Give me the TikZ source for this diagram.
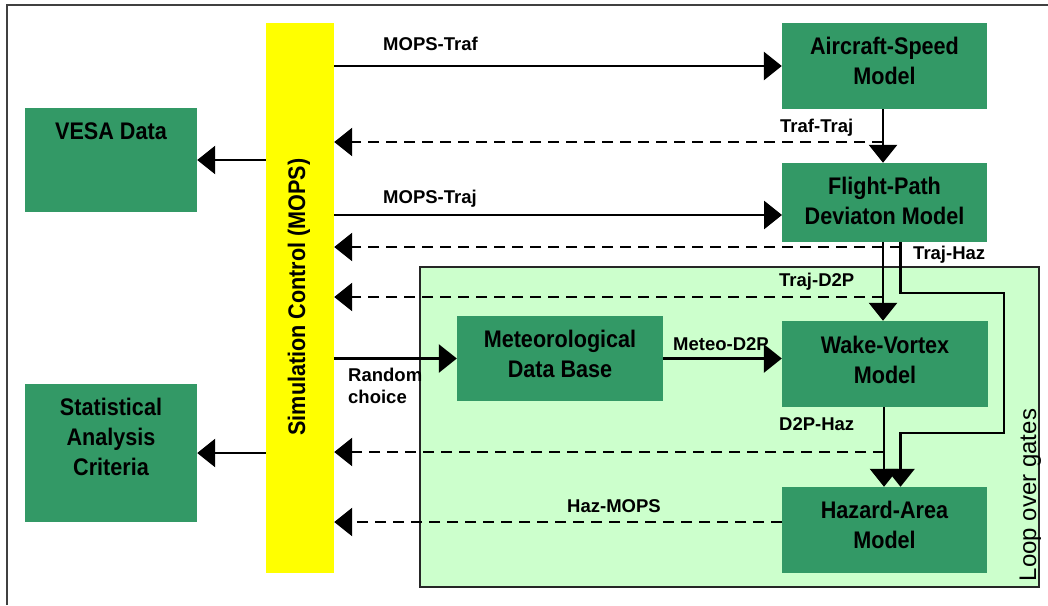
\documentclass[tikz,border=0pt]{standalone}
\usepackage{fontspec}
\setmainfont{Liberation Sans}
\newfontfamily\boxfont{Liberation Sans}[FakeStretch=0.9]
\usetikzlibrary{arrows.meta}
\definecolor{boxgreen}{RGB}{51,153,102}
\definecolor{loopgreen}{RGB}{204,255,204}
\definecolor{mopsyellow}{RGB}{255,255,0}
\newcommand{\bxt}[1]{\begin{tabular}[t]{@{}c@{}}#1\end{tabular}}
\newcommand{\lxt}[1]{\begin{tabular}[t]{@{}l@{}}#1\end{tabular}}
\begin{document}
\begin{tikzpicture}[x=1pt,y=-1pt,
  gbox/.style={fill=boxgreen, inner sep=0pt},
  btext/.style={anchor=base, inner sep=0pt, font=\boxfont\bfseries\fontsize{24}{30}\selectfont},
  lbl/.style={anchor=base west, inner sep=0pt, font=\bfseries\fontsize{18.5}{22}\selectfont},
  conn/.style={line width=2.9pt, -{Triangle[length=18pt,width=28pt]}},
  dconn/.style={conn, dash pattern=on 11pt off 7pt},
]
\useasboundingbox (0,0) rectangle (1048,605);
% frame
\draw[line width=1.3pt, black!75] (7,605) -- (7,5) -- (1048,5);
% loop region
\node[fill=loopgreen, draw=black!85, line width=1.3pt, inner sep=0pt,
      minimum width=619pt, minimum height=320pt] (loop) at (729.5,427) {};
\node[anchor=base, rotate=90, inner sep=0pt, font=\fontsize{24}{28}\selectfont]
      (looptext) at (1036,495) {Loop over gates};
% yellow control bar
\node[fill=mopsyellow, inner sep=0pt, minimum width=68pt, minimum height=550pt] (mops) at (300,298) {};
\node[anchor=base, rotate=90, inner sep=0pt, font=\boxfont\bfseries\fontsize{24}{30}\selectfont]
      (mopstext) at (305,297) {Simulation Control (MOPS)};
% coordinates for connector ends
\coordinate (mtraj) at (782,215);
\coordinate (d1) at (883,142);
\coordinate (d2) at (901,247);
\coordinate (d3) at (883,297);
\coordinate (d4) at (884,452);
\coordinate (d5) at (782,522);
\coordinate (th1) at (1004,293);
\coordinate (th2) at (1004,433);
% green boxes
\node[gbox, minimum width=172pt, minimum height=104pt] (vesa) at (111,160) {};
\node[gbox, minimum width=172pt, minimum height=138pt] (stat) at (111,453) {};
\node[gbox, minimum width=205pt, minimum height=86pt] (aircraft) at (884.5,66) {};
\node[gbox, minimum width=205pt, minimum height=79pt] (flight) at (884.5,202.5) {};
\node[gbox, minimum width=206pt, minimum height=85pt] (met) at (560,358.5) {};
\node[gbox, minimum width=206pt, minimum height=86pt] (wake) at (885,364) {};
\node[gbox, minimum width=205pt, minimum height=86pt] (hazard) at (884.5,530) {};
% box texts
\node[btext] (vesat) at (111,139) {\bxt{VESA Data}};
\node[btext] (statt) at (111,415) {\bxt{Statistical\\Analysis\\Criteria}};
\node[btext] (aircraftt) at (884.5,54) {\bxt{Aircraft-Speed\\Model}};
\node[btext] (flightt) at (884.5,194) {\bxt{Flight-Path\\Deviaton Model}};
\node[btext] (mett) at (560,347) {\bxt{Meteorological\\Data Base}};
\node[btext] (waket) at (885,353) {\bxt{Wake-Vortex\\Model}};
\node[btext] (hazardt) at (884.5,518) {\bxt{Hazard-Area\\Model}};
% solid connectors
\draw[conn] (mops.east |- aircraft.west) -- (aircraft.west);
\draw[conn] (mops.east |- mtraj) -- (mtraj);
\draw[conn] ([xshift=-1.5pt]aircraft.south) -- ([xshift=-1.5pt]aircraft.south |- flight.north);
\draw[conn] ([xshift=-1.5pt]flight.south) -- ([xshift=-1.5pt]flight.south |- wake.north);
\draw[conn] ([xshift=16pt]flight.south) |- (th1) -- (th2) -| ([xshift=16pt]hazard.north);
\draw[conn] ([xshift=-1pt]wake.south) -- ([xshift=-1pt]wake.south |- hazard.north);
\draw[conn] (mops.west |- vesa.east) -- (vesa.east);
\draw[conn] (mops.west |- stat.east) -- (stat.east);
\draw[conn] (mops.east |- met.west) -- (met.west);
\draw[conn] (met.east) -- (met.east -| wake.west);
% dashed return connectors
\draw[dconn] (d1) -- (d1 -| mops.east);
\draw[dconn] (d2) -- (d2 -| mops.east);
\draw[dconn] (d3) -- (d3 -| mops.east);
\draw[dconn] (d4) -- (d4 -| mops.east);
\draw[dconn] (d5) -- (d5 -| mops.east);
% labels
\node[lbl] (l1) at (383,50) {MOPS-Traf};
\node[lbl] (l2) at (780,132) {Traf-Traj};
\node[lbl] (l3) at (383,203) {MOPS-Traj};
\node[lbl] (l4) at (913,259) {Traj-Haz};
\node[lbl] (l5) at (779,286) {Traj-D2P};
\node[lbl] (l6) at (673,350) {Meteo-D2P};
\node[lbl] (l7) at (348,381) {\lxt{Random\\choice}};
\node[lbl] (l8) at (779,430) {D2P-Haz};
\node[lbl] (l9) at (567,512) {Haz-MOPS};
\end{tikzpicture}
\end{document}
